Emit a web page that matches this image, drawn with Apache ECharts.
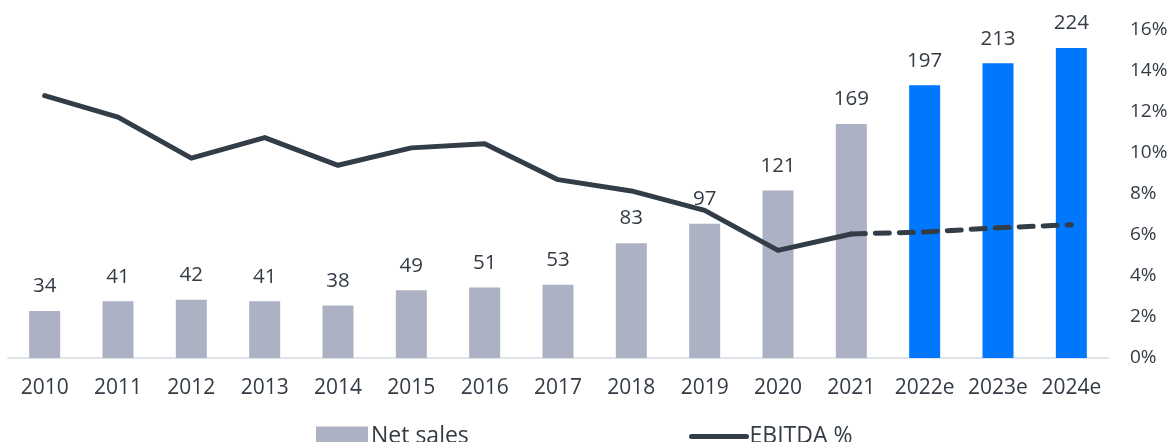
<!DOCTYPE html>
<html>
<head>
<meta charset="utf-8">
<script src="https://cdn.jsdelivr.net/npm/echarts@6/dist/echarts.min.js"></script>
<style>
  html, body { margin: 0; padding: 0; background: #fff; }
  #chart { width: 1172px; height: 442px; }
</style>
</head>
<body>
<div id="chart"></div>
<script>
var years = ["2010", "2011", "2012", "2013", "2014", "2015", "2016", "2017", "2018", "2019", "2020", "2021", "2022e", "2023e", "2024e"];
var netSales = [34, 41, 42, 41, 38, 49, 51, 53, 83, 97, 121, 169, 197, 213, 224];
var ebitdaPct = [12.8, 11.75, 9.75, 10.75, 9.4, 10.25, 10.45, 8.7, 8.15, 7.2, 5.25, 6.05, 6.15, 6.35, 6.5];
var firstForecast = 12; // 2022e onwards is estimate
var pctTicks = [0, 2, 4, 6, 8, 10, 12, 14, 16];

var textColor = "#333b45";
var greyBar = "#acb2c4";
var blueBar = "#0077ff";
var lineColor = "#333d47";
var font = "'Open Sans', 'Noto Sans', sans-serif";

var chart = echarts.init(document.getElementById("chart"));

var barData = netSales.map(function (v, i) {
  return {
    value: v,
    itemStyle: { color: i >= firstForecast ? blueBar : greyBar }
  };
});
// solid part up to last actual year, dashed part from there on
var solidLine = ebitdaPct.map(function (v, i) { return i < firstForecast ? v : null; });
var dashedLine = ebitdaPct.map(function (v, i) { return i >= firstForecast - 1 ? v : null; });

var legendText = { fontSize: 23, color: textColor, fontFamily: font, padding: [0, 0, 0, -2] };

var option = {
  animation: false,
  textStyle: { fontFamily: font },
  grid: { left: 8, right: 64, top: 30, bottom: 84 },
  legend: [
    {
      top: 425,
      left: 316,
      padding: 0,
      itemWidth: 52,
      itemHeight: 20,
      textStyle: legendText,
      data: [{ name: "Net sales", icon: "rect" }]
    },
    {
      top: 425,
      left: 689,
      padding: 0,
      itemWidth: 55,
      itemHeight: 20,
      textStyle: legendText,
      lineStyle: { width: 5, cap: "round" },
      data: [{ name: "EBITDA %", itemStyle: { opacity: 0 } }]
    }
  ],
  xAxis: {
    type: "category",
    data: years,
    axisLine: { lineStyle: { color: "#dfe3ea", width: 2 } },
    axisTick: { show: false },
    axisLabel: { fontSize: 21, color: textColor, margin: 20, interval: 0 }
  },
  yAxis: [
    {
      type: "value",
      min: 0,
      max: 237,
      show: false
    },
    {
      type: "value",
      min: pctTicks[0],
      max: pctTicks[pctTicks.length - 1],
      interval: 2,
      position: "right",
      splitLine: { show: false },
      axisLine: { show: false },
      axisTick: { show: false },
      axisLabel: {
        fontSize: 19,
        color: textColor,
        margin: 22,
        formatter: function (v) { return v + "%"; }
      }
    }
  ],
  series: [
    {
      name: "Net sales",
      type: "bar",
      yAxisIndex: 0,
      barWidth: 31,
      data: barData,
      itemStyle: { color: greyBar },
      label: {
        show: true,
        position: "top",
        distance: 14,
        fontSize: 20.5,
        color: textColor
      }
    },
    {
      name: "EBITDA %",
      type: "line",
      yAxisIndex: 1,
      symbol: "none",
      data: solidLine,
      lineStyle: { color: lineColor, width: 5, cap: "round", join: "round" },
      itemStyle: { color: lineColor }
    },
    {
      name: "EBITDA % e",
      type: "line",
      yAxisIndex: 1,
      symbol: "none",
      data: dashedLine,
      lineStyle: { color: lineColor, width: 5, type: [14, 10], cap: "round" },
      itemStyle: { color: lineColor }
    }
  ]
};

chart.setOption(option);
</script>
</body>
</html>
